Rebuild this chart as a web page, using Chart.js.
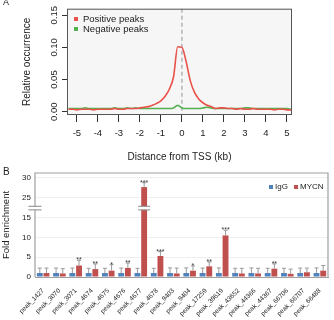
<!DOCTYPE html>
<html>
<head>
<meta charset="utf-8">
<script src="https://cdn.jsdelivr.net/npm/chart.js@4.4.1/dist/chart.umd.min.js"></script>
<style>
  html, body { margin: 0; padding: 0; background: #fff; }
  .panel { position: absolute; left: 0; }
  #panelA { top: 0; }
  #panelB { top: 164px; }
</style>
</head>
<body>
<canvas id="panelA" class="panel" width="334" height="164"></canvas>
<canvas id="panelB" class="panel" width="334" height="156"></canvas>
<script>
// ---- panel A data: distance from TSS (kb) and relative occurrence
const distKb = [-5.4, -5.2, -5.0, -4.8, -4.6, -4.4, -4.2, -4.0, -3.8, -3.6, -3.4, -3.2, -3.0, -2.8,
  -2.6, -2.4, -2.2, -2.0, -1.8, -1.6, -1.4, -1.2, -1.0, -0.8, -0.6, -0.4, -0.2, 0.0, 0.2, 0.4,
  0.6, 0.8, 1.0, 1.2, 1.4, 1.6, 1.8, 2.0, 2.2, 2.4, 2.6, 2.8, 3.0, 3.2, 3.4, 3.6, 3.8, 4.0,
  4.2, 4.4, 4.6, 4.8, 5.0, 5.2];
const positivePeaks = [0.004, 0.004, 0.003, 0.004, 0.004, 0.004, 0.003, 0.004, 0.004, 0.004, 0.004, 0.005, 0.004, 0.004,
  0.005, 0.005, 0.005, 0.006, 0.007, 0.008, 0.010, 0.013, 0.017, 0.024, 0.035, 0.054, 0.101, 0.100, 0.078, 0.048,
  0.030, 0.020, 0.014, 0.010, 0.008, 0.005, 0.006, 0.006, 0.005, 0.005, 0.004, 0.005, 0.004, 0.004, 0.005, 0.004, 0.004, 0.004,
  0.004, 0.003, 0.004, 0.004, 0.003, 0.003];
const negativePeaks = [0.005, 0.005, 0.005, 0.005, 0.006, 0.005, 0.005, 0.005, 0.005, 0.005, 0.005, 0.006, 0.005, 0.005,
  0.006, 0.005, 0.006, 0.005, 0.005, 0.005, 0.005, 0.005, 0.005, 0.005, 0.005, 0.006, 0.010, 0.006, 0.005, 0.005,
  0.005, 0.005, 0.006, 0.007, 0.006, 0.005, 0.005, 0.005, 0.005, 0.005, 0.005, 0.005, 0.006, 0.006, 0.005, 0.005, 0.005, 0.005,
  0.005, 0.005, 0.005, 0.005, 0.005, 0.004];
const distTicks = [-5, -4, -3, -2, -1, 0, 1, 2, 3, 4, 5];
const occTicks = [0, 0.05, 0.10, 0.15];

// ---- panel B data: ChIP-qPCR fold enrichment
const peakNames = ['peak_1427', 'peak_3070', 'peak_3071', 'peak_4674', 'peak_4675', 'peak_4676', 'peak_4677',
  'peak_4678', 'peak_9403', 'peak_9404', 'peak_17259', 'peak_39619', 'peak_43652', 'peak_44366', 'peak_44367',
  'peak_66706', 'peak_66707', 'peak_66488'];
const iggFold = [1.0, 1.0, 1.0, 1.0, 1.0, 1.0, 1.0, 1.0, 1.0, 1.0, 1.0, 1.0, 1.0, 1.0, 1.0, 1.0, 1.0, 1.0];
const iggErr = [1.25, 1.25, 1.25, 1.2, 1.2, 1.25, 1.2, 1.2, 1.3, 1.3, 1.25, 1.3, 1.2, 1.3, 1.2, 1.2, 1.25, 1.3];
const mycnFold = [1.0, 0.9, 2.9, 2.0, 1.6, 2.3, 27.7, 5.3, 0.9, 1.6, 2.7, 10.5, 0.9, 0.9, 2.1, 0.8, 1.2, 1.6];
const mycnErr = [1.25, 1.2, 1.3, 1.3, 1.5, 1.2, 1.1, 1.1, 1.35, 1.2, 1.1, 1.3, 1.3, 1.3, 1.2, 1.2, 1.05, 1.3];
const mycnStars = ['', '', '**', '**', '*', '**', '***', '***', '', '*', '**', '***', '', '', '**', '', '', ''];
const foldTicks = [0, 5, 10, 15, 20, 25];          // positions on the broken axis
const foldTickLabels = ['0', '5', '10', '15', '25', '30'];

const FONT = '"Liberation Sans", Arial, sans-serif';
Chart.defaults.font.family = FONT;

// axis break: everything above 20 is shifted down by 5 (15..25 gap hidden)
const brk = v => (v > 20 ? v - 5 : v);
const BREAK_AT = 17.4;

// ---------- panel A ----------
const panelAPlugin = {
  id: 'panelA',
  beforeDraw(chart) {
    const { ctx, chartArea: a } = chart;
    ctx.save();
    ctx.fillStyle = '#f6f6f6';
    ctx.fillRect(a.left, a.top, a.right - a.left, a.bottom - a.top);
    ctx.restore();
  },
  beforeDatasetsDraw(chart) {
    const { ctx, chartArea: a } = chart;
    const x0 = chart.scales.x.getPixelForValue(0);
    ctx.save();
    ctx.strokeStyle = '#b4b4b4';
    ctx.lineWidth = 1.5;
    ctx.setLineDash([4, 3]);
    ctx.beginPath();
    ctx.moveTo(x0, a.top);
    ctx.lineTo(x0, a.bottom);
    ctx.stroke();
    ctx.restore();
  },
  afterDraw(chart) {
    const { ctx, chartArea: a } = chart;
    const y = chart.scales.y;
    ctx.save();
    ctx.strokeStyle = '#555';
    ctx.lineWidth = 1;
    ctx.strokeRect(a.left + 0.5, a.top + 0.5, a.right - a.left - 1, a.bottom - a.top - 1);

    // rotated y tick labels, R style
    ctx.fillStyle = '#222';
    ctx.font = '9.5px ' + FONT;
    ctx.textAlign = 'center';
    ctx.textBaseline = 'middle';
    occTicks.forEach(v => {
      ctx.save();
      ctx.translate(a.left - 13, y.getPixelForValue(v));
      ctx.rotate(-Math.PI / 2);
      ctx.fillText(v.toFixed(2), 0, 0);
      ctx.restore();
    });

    // legend
    const items = [['Positive peaks', '#e8524a'], ['Negative peaks', '#55b050']];
    ctx.textAlign = 'left';
    items.forEach((it, i) => {
      const ly = 19 + i * 10;
      ctx.fillStyle = it[1];
      ctx.fillRect(74, ly - 2, 4, 4);
      ctx.fillStyle = '#222';
      ctx.fillText(it[0], 83, ly);
    });

    ctx.font = '9px ' + FONT;
    ctx.fillText('A', 3, 3);
    ctx.restore();
  }
};

new Chart(document.getElementById('panelA'), {
  type: 'line',
  data: {
    datasets: [
      {
        label: 'Positive peaks',
        data: distKb.map((x, i) => ({ x: x, y: positivePeaks[i] })),
        borderColor: '#e8524a',
        borderWidth: 1.6,
        pointRadius: 0,
        cubicInterpolationMode: 'monotone'
      },
      {
        label: 'Negative peaks',
        data: distKb.map((x, i) => ({ x: x, y: negativePeaks[i] })),
        borderColor: '#55b050',
        borderWidth: 1.6,
        pointRadius: 0,
        cubicInterpolationMode: 'monotone'
      }
    ]
  },
  options: {
    responsive: false,
    animation: false,
    layout: { padding: { left: 0, right: 42, top: 6, bottom: 0 } },
    plugins: { legend: { display: false }, tooltip: { enabled: false } },
    scales: {
      x: {
        type: 'linear',
        min: -5.47,
        max: 5.24,
        afterBuildTicks: s => { s.ticks = distTicks.map(v => ({ value: v })); },
        afterFit: s => { s.height = 49; },
        grid: { drawOnChartArea: false, tickLength: 7, color: '#333' },
        border: { display: false },
        ticks: { color: '#222', font: { size: 9.5 }, padding: 6, maxRotation: 0, callback: v => String(v) },
        title: {
          display: true, text: 'Distance from TSS (kb)', color: '#222',
          font: { size: 10 }, padding: { top: 0, bottom: 1 }
        }
      },
      y: {
        min: -0.005,
        max: 0.16,
        afterBuildTicks: s => { s.ticks = occTicks.map(v => ({ value: v })); },
        afterFit: s => { s.width = 67; },
        grid: { drawOnChartArea: false, tickLength: 5, color: '#333' },
        border: { display: false },
        ticks: { color: 'rgba(0,0,0,0)', font: { size: 9.5 } },
        title: {
          display: true, text: 'Relative occurrence', color: '#222',
          font: { size: 10 }, padding: { top: 21, bottom: 0 }
        }
      }
    }
  },
  plugins: [panelAPlugin]
});

// ---------- panel B ----------
const panelBPlugin = {
  id: 'panelB',
  afterDatasetsDraw(chart) {
    const { ctx, chartArea: a } = chart;
    const y = chart.scales.y;
    ctx.save();

    // frame
    ctx.strokeStyle = '#a0a0a0';
    ctx.lineWidth = 1.2;
    ctx.beginPath();
    ctx.moveTo(a.left, a.bottom);
    ctx.lineTo(a.left, a.top);
    ctx.lineTo(a.right, a.top);
    ctx.lineTo(a.right, a.bottom);
    ctx.stroke();

    // error bars
    const series = [[iggFold, iggErr], [mycnFold, mycnErr]];
    ctx.strokeStyle = '#9a9a9a';
    ctx.lineWidth = 1;
    series.forEach((s, d) => {
      chart.getDatasetMeta(d).data.forEach((bar, i) => {
        const base = y.getPixelForValue(brk(s[0][i]));
        const top = y.getPixelForValue(brk(s[0][i] + s[1][i]));
        ctx.beginPath();
        ctx.moveTo(bar.x, base);
        ctx.lineTo(bar.x, top);
        ctx.moveTo(bar.x - 2, top);
        ctx.lineTo(bar.x + 2, top);
        ctx.stroke();
      });
    });

    // significance stars
    ctx.fillStyle = '#333';
    ctx.font = '7px ' + FONT;
    ctx.textAlign = 'center';
    ctx.textBaseline = 'alphabetic';
    chart.getDatasetMeta(1).data.forEach((bar, i) => {
      if (!mycnStars[i]) return;
      const top = y.getPixelForValue(brk(mycnFold[i] + mycnErr[i]));
      ctx.fillText(mycnStars[i], bar.x, top + 2);
    });

    // axis break marks (axis and the tallest bar)
    const by = y.getPixelForValue(BREAK_AT);
    const drawBreak = (cx, half) => {
      ctx.fillStyle = '#fff';
      ctx.fillRect(cx - half, by - 1.8, half * 2, 3.6);
      ctx.strokeStyle = '#888';
      ctx.lineWidth = 1;
      ctx.beginPath();
      ctx.moveTo(cx - half, by - 1.8);
      ctx.lineTo(cx + half, by - 1.8);
      ctx.moveTo(cx - half, by + 1.8);
      ctx.lineTo(cx + half, by + 1.8);
      ctx.stroke();
    };
    drawBreak(a.left, 6.5);
    chart.getDatasetMeta(1).data.forEach((bar, i) => {
      if (mycnFold[i] > 20) drawBreak(bar.x, 6);
    });

    // legend
    ctx.font = '8px ' + FONT;
    ctx.textAlign = 'left';
    ctx.textBaseline = 'middle';
    const ly = 23;
    ctx.fillStyle = '#4f81bd';
    ctx.fillRect(269, ly - 2, 4, 4);
    ctx.fillStyle = '#222';
    ctx.fillText('IgG', 275, ly);
    ctx.fillStyle = '#c0504d';
    ctx.fillRect(294, ly - 2, 4, 4);
    ctx.fillStyle = '#222';
    ctx.fillText('MYCN', 300, ly);

    ctx.font = '10px ' + FONT;
    ctx.fillText('B', 3, 8);
    ctx.restore();
  }
};

new Chart(document.getElementById('panelB'), {
  type: 'bar',
  data: {
    labels: peakNames,
    datasets: [
      { label: 'IgG', data: iggFold.map(brk), backgroundColor: '#4f81bd', categoryPercentage: 0.82, barPercentage: 0.88 },
      { label: 'MYCN', data: mycnFold.map(brk), backgroundColor: '#c0504d', categoryPercentage: 0.82, barPercentage: 0.88 }
    ]
  },
  options: {
    responsive: false,
    animation: false,
    layout: { padding: { left: 0, right: 6, top: 9, bottom: 0 } },
    plugins: { legend: { display: false }, tooltip: { enabled: false } },
    scales: {
      x: {
        grid: { display: false },
        border: { color: '#a0a0a0' },
        afterFit: s => { s.height = 43; },
        ticks: { color: '#222', font: { size: 6.5 }, minRotation: 45, maxRotation: 45, padding: 2, autoSkip: false }
      },
      y: {
        min: 0,
        max: 26.26,
        afterBuildTicks: s => { s.ticks = foldTicks.map(v => ({ value: v })); },
        afterFit: s => { s.width = 35; },
        grid: { color: '#efefef', drawTicks: false },
        border: { display: false },
        ticks: { color: '#222', font: { size: 8 }, padding: 4, callback: v => foldTickLabels[foldTicks.indexOf(v)] },
        title: {
          display: true, text: 'Fold enrichment', color: '#222',
          font: { size: 9.5 }, padding: { top: 1, bottom: 0 }
        }
      }
    }
  },
  plugins: [panelBPlugin]
});
</script>
</body>
</html>
